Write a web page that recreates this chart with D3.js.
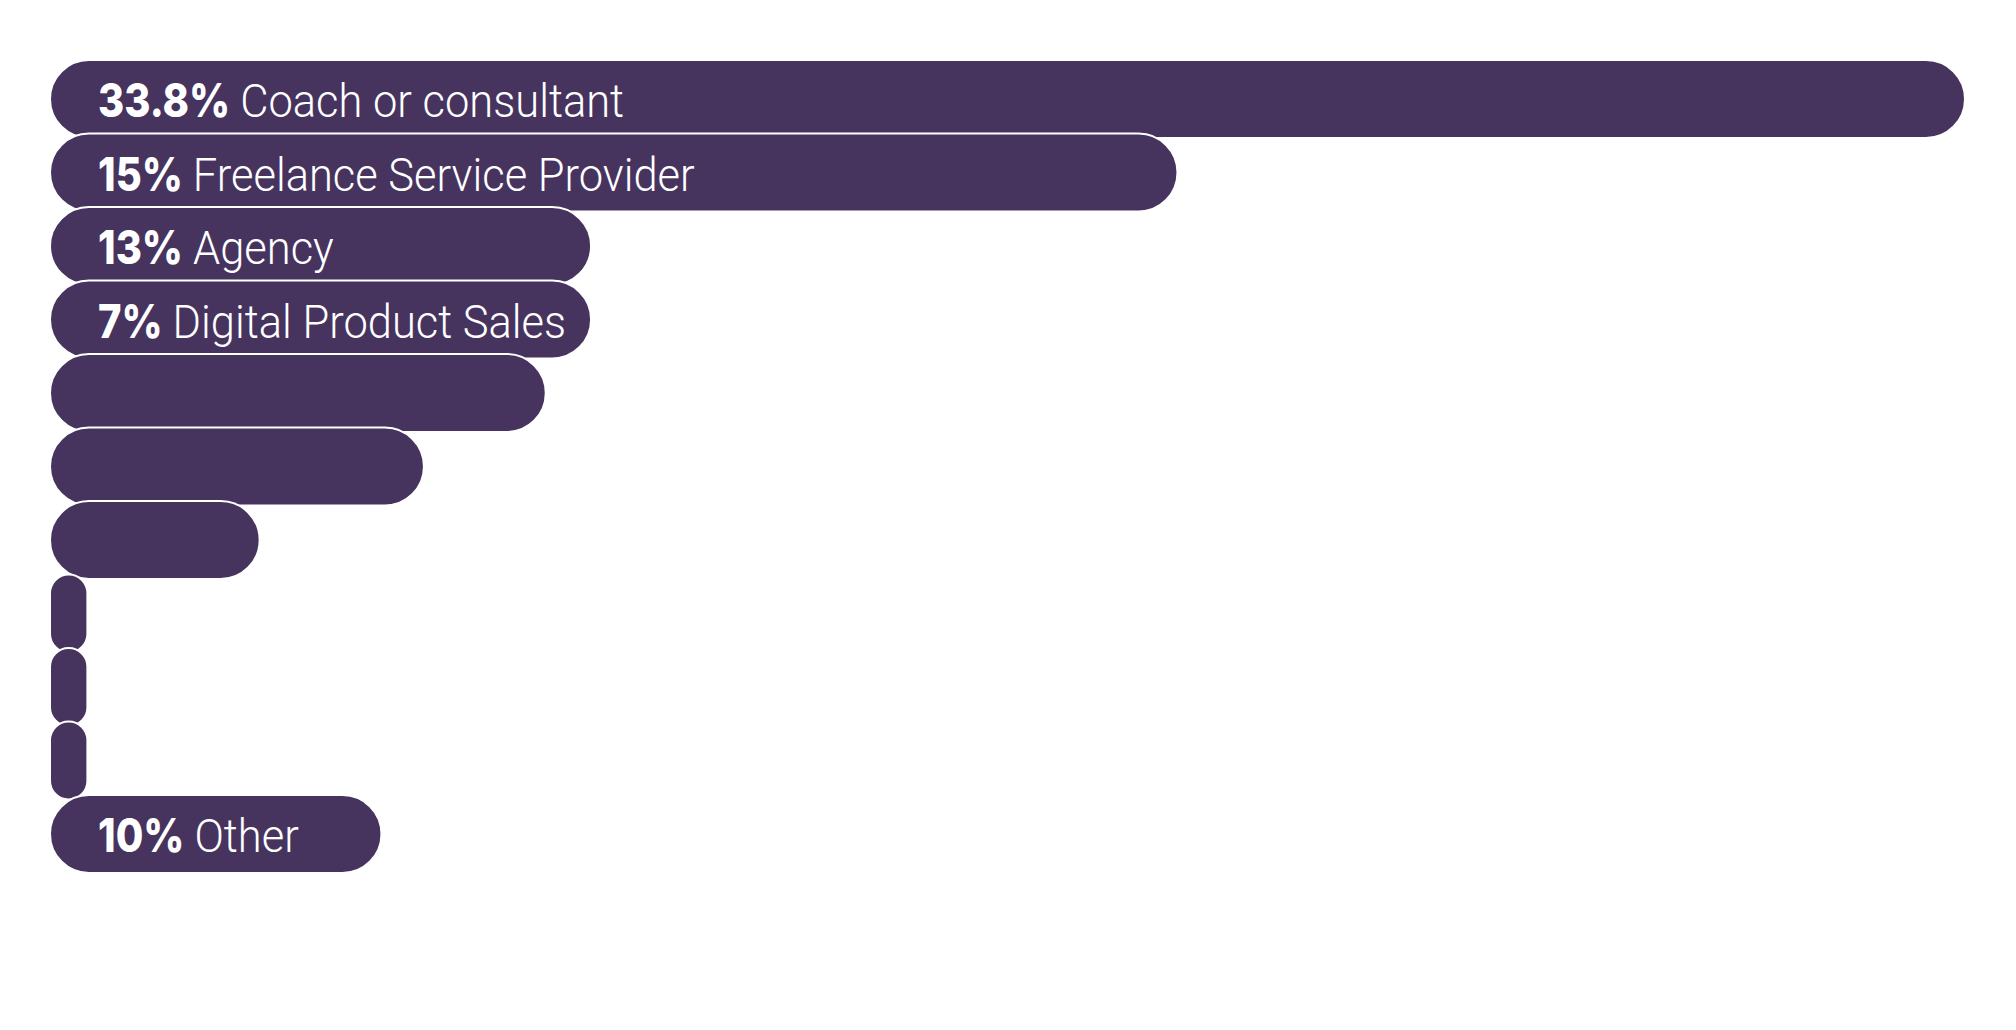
<!DOCTYPE html>
<html>
<head>
<meta charset="utf-8">
<script src="https://cdn.jsdelivr.net/npm/d3@7"></script>
<style>
  html, body { margin: 0; padding: 0; background: #fff; }
  svg { display: block; }
</style>
</head>
<body>
<script>
// chart data (frame of the grow animation: bar lengths as drawn, in % units)
var shares = ["33.8%", "15%", "13%", "7%", "", "", "", "", "", "", "10%"];
var names = ["Coach or consultant", "Freelance Service Provider", "Agency", "Digital Product Sales",
             "", "", "", "", "", "", "Other"];
var shown = [33.8, 19.9, 9.55, 9.55, 8.75, 6.6, 3.7, 0.66, 0.66, 0.66, 5.85];

// layout params
var width = 2016,
    height = 1030;
var x_left = 50;
var bar_h = 78;
var top_y = 60;
var pitch = 73.5;
var fill = "#46345f";
var font_size = 47;
var squeeze_num = 0.85;
var squeeze_name = 0.925;
var text_x = 48;
var gap = 10;

var x = d3.scaleLinear()
    .domain([0, 33.8])
    .range([0, 1915]);

var y = d3.scaleLinear()
    .domain([0, shown.length - 1])
    .range([top_y, top_y + pitch * (shown.length - 1)]);

var svg = d3.select("body").append("svg")
    .attr("width", width)
    .attr("height", height);

var rows = svg.selectAll("g.row")
    .data(shown.map(function(v, i){ return {v: v, share: shares[i], name: names[i]}; }))
  .enter().append("g")
    .attr("class", "row")
    .attr("transform", function(d, i){ return "translate(" + x_left + "," + y(i) + ")"; });

rows.append("rect")
    .attr("width", function(d){ return x(d.v); })
    .attr("height", bar_h)
    .attr("rx", function(d){ return Math.min(bar_h / 2, x(d.v) / 2); })
    .attr("ry", function(d){ return Math.min(bar_h / 2, x(d.v) / 2); })
    .attr("fill", fill)
    .attr("stroke", "#fff")
    .attr("stroke-width", 2);

var labelled = rows.filter(function(d){ return d.name !== ""; });
var base = bar_h / 2 + 18;

labelled.append("text")
    .attr("class", "num")
    .attr("transform", "translate(" + text_x + "," + base + ") scale(" + squeeze_num + ",1)")
    .attr("fill", "#fff")
    .style("font-size", font_size + "px")
    .style("font-family", "Inter, 'Noto Sans', sans-serif")
    .style("font-weight", 800)
    .text(function(d){ return d.share; });

labelled.append("text")
    .attr("class", "name")
    .attr("transform", function(){
        var w = d3.select(this.parentNode).select("text.num").node().getComputedTextLength() * squeeze_num;
        return "translate(" + (text_x + w + gap) + "," + base + ") scale(" + squeeze_name + ",1)";
    })
    .attr("fill", "#fff")
    .style("font-size", font_size + "px")
    .style("font-family", "Roboto, 'Liberation Sans', sans-serif")
    .style("font-weight", 300)
    .text(function(d){ return d.name; });
</script>
</body>
</html>
